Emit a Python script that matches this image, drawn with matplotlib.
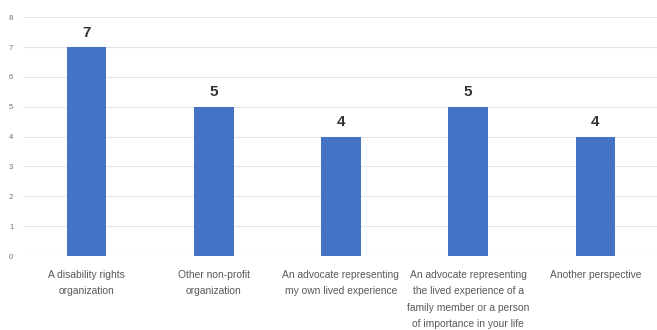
import matplotlib.pyplot as plt

categories = [
    "A disability rights\norganization",
    "Other non-profit\norganization",
    "An advocate representing\nmy own lived experience",
    "An advocate representing\nthe lived experience of a\nfamily member or a person\nof importance in your life",
    "Another perspective",
]
counts = [7, 5, 4, 5, 4]
yticks = [0, 1, 2, 3, 4, 5, 6, 7, 8]

plt.rcParams['font.family'] = ['Liberation Sans Narrow', 'Liberation Sans', 'DejaVu Sans']

fig = plt.figure(figsize=(6.57, 3.30), dpi=100)
ax = fig.add_axes([0.035, 0.224, 0.968, 0.724])

x = range(len(categories))
bars = ax.bar(x, counts, width=0.31, color='#4472C4', zorder=3)

# 柱顶数值
for b, v in zip(bars, counts):
    ax.text(b.get_x() + b.get_width() / 2, v + 0.25, str(v),
            ha='center', va='bottom', fontsize=11, fontweight='bold', color='#333333')

ax.set_xlim(-0.5, 4.5)
ax.set_ylim(0, 8)
ax.set_yticks(yticks)
ax.set_yticklabels([str(t) for t in yticks], fontsize=5.5, color='#707070')
ax.set_xticks(list(x))
ax.set_xticklabels(categories, fontsize=7.4, color='#595959', linespacing=1.8, va='top')
ax.tick_params(axis='both', length=0)
ax.tick_params(axis='x', pad=10)
ax.tick_params(axis='y', pad=7)

ax.grid(axis='y', color='#e6e6e6', linewidth=0.8, zorder=0)
for s in ax.spines.values():
    s.set_visible(False)

fig.savefig('out.png', dpi=100)
